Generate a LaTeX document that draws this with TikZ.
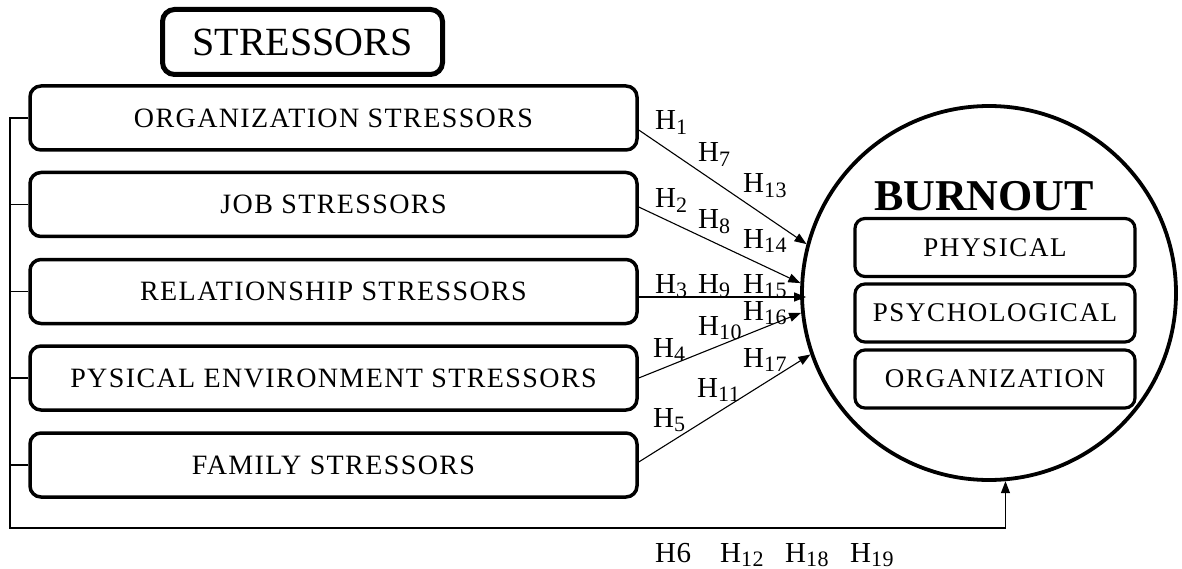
\documentclass[tikz,border=0pt]{standalone}
\usepackage{fontspec}
\setmainfont{Liberation Serif}
\usetikzlibrary{arrows.meta,calc}
\newcommand\Hs[1]{H\raisebox{-4.5pt}{\fontsize{22}{22}\selectfont #1}}
\begin{document}
\begin{tikzpicture}[x=1pt,y=1pt,
 sbox/.style={draw, line width=3.5pt, rounded corners=11pt, minimum width=607pt, minimum height=64pt, font=\fontsize{28}{30}\selectfont\addfontfeature{LetterSpace=5}, inner sep=0pt},
 ibox/.style={draw, line width=3.2pt, rounded corners=10pt, minimum width=280pt, minimum height=58pt, font=\fontsize{27}{30}\selectfont\addfontfeature{LetterSpace=6}, inner sep=0pt},
 link/.style={line width=1.1pt},
 conn/.style={line width=1.1pt, -{Triangle[length=12pt,width=9pt]}},
 hl/.style={anchor=base west, inner sep=0pt, font=\fontsize{29}{31}\selectfont\addfontfeature{LetterSpace=2}},
]
\useasboundingbox (0,0) rectangle (1182,-569);
% title
\node[draw, line width=5pt, rounded corners=12pt, minimum width=280pt, minimum height=65pt, inner sep=0pt, font=\fontsize{40}{42}\selectfont] (title) at (302.5,-42) {STRESSORS};
% stressor boxes
\node[sbox] (org) at (333.5,-118) {ORGANIZATION STRESSORS};
\node[sbox] (job) at (333.5,-204.5) {JOB STRESSORS};
\node[sbox] (rel) at (333.5,-291.5) {RELATIONSHIP STRESSORS};
\node[sbox] (pys) at (333.5,-378) {PYSICAL ENVIRONMENT STRESSORS};
\node[sbox] (fam) at (333.5,-465) {FAMILY STRESSORS};
% burnout circle
\node[circle, draw, line width=3.8pt, minimum size=374pt, inner sep=0pt] (burn) at (989,-293) {};
\node[anchor=base, inner sep=0pt, font=\bfseries\fontsize{44}{46}\selectfont] (bt) at (984,-211) {BURNOUT};
\node[ibox] (phy) at (995,-247.5) {PHYSICAL};
\node[ibox] (psy) at (995,-313) {PSYCHOLOGICAL};
\node[ibox] (iorg) at (995,-379) {ORGANIZATION};
% connectors
\draw[conn] ([yshift=-12pt]org.east) -- (burn.165.4);
\draw[conn] ([yshift=-2.5pt]job.east) -- (burn.177.6);
\draw[conn] ([yshift=-5.5pt]rel.east) -- ([yshift=-5.5pt,xshift=6pt]rel.east -| burn.west);
\draw[conn] (pys.east) -- (burn.186.2);
\draw[conn] ([yshift=3pt]fam.east) -- (burn.199.8);
% feedback bracket
\coordinate (bl) at (10,-528);
\draw[conn] (org.west) -| (bl) -| (burn.275);
\draw[link] (job.west) -- (job.west -| bl);
\draw[link] (rel.west) -- (rel.west -| bl);
\draw[link] (pys.west) -- (pys.west -| bl);
\draw[link] (fam.west) -- (fam.west -| bl);
% hypothesis labels
\node[hl] (h1) at (655,-130) {\Hs{1}};
\node[hl] (h7) at (698,-162) {\Hs{7}};
\node[hl] (h13) at (743,-193) {\Hs{13}};
\node[hl] (h2) at (655,-208) {\Hs{2}};
\node[hl] (h8) at (698,-229) {\Hs{8}};
\node[hl] (h14) at (743,-248) {\Hs{14}};
\node[hl] (h3) at (655,-293) {\Hs{3}};
\node[hl] (h9) at (698,-293) {\Hs{9}};
\node[hl] (h15) at (743,-293) {\Hs{15}};
\node[hl] (h16) at (743,-320) {\Hs{16}};
\node[hl] (h10) at (698,-335) {\Hs{10}};
\node[hl] (h4) at (653,-357) {\Hs{4}};
\node[hl] (h17) at (743,-367) {\Hs{17}};
\node[hl] (h11) at (697,-397) {\Hs{11}};
\node[hl] (h5) at (653,-427) {\Hs{5}};
\node[hl] (h6) at (655,-562) {H6};
\node[hl] (h12) at (720,-562) {\Hs{12}};
\node[hl] (h18) at (785,-562) {\Hs{18}};
\node[hl] (h19) at (850,-562) {\Hs{19}};
\end{tikzpicture}
\end{document}
